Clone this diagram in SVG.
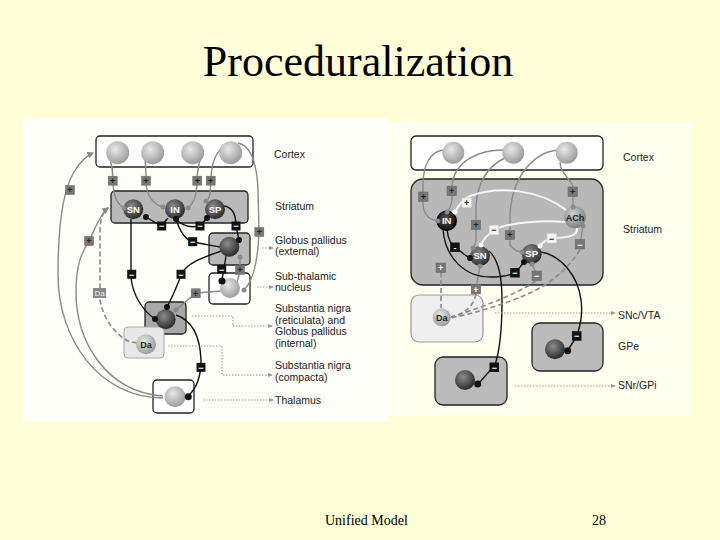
<svg xmlns="http://www.w3.org/2000/svg" width="720" height="540" viewBox="0 0 720 540">
<defs>
<radialGradient id="gl" cx="40%" cy="35%" r="65%"><stop offset="0" stop-color="#e8e8e8"/><stop offset="1" stop-color="#9c9c9c"/></radialGradient>
<radialGradient id="gd" cx="40%" cy="35%" r="65%"><stop offset="0" stop-color="#8c8c8c"/><stop offset="1" stop-color="#2c2c2c"/></radialGradient>
<radialGradient id="gm" cx="40%" cy="35%" r="65%"><stop offset="0" stop-color="#d0d0d0"/><stop offset="1" stop-color="#808080"/></radialGradient>
<radialGradient id="gk" cx="45%" cy="40%" r="60%"><stop offset="0" stop-color="#555"/><stop offset="1" stop-color="#111"/></radialGradient>
<marker id="ag" viewBox="0 0 10 10" refX="8" refY="5" markerWidth="5" markerHeight="5" orient="auto"><path d="M0,0 L10,5 L0,10 z" fill="#8a8a8a"/></marker>
<marker id="ad" viewBox="0 0 10 10" refX="8" refY="5" markerWidth="5" markerHeight="5" orient="auto"><path d="M0,1 L10,5 L0,9 z" fill="#999"/></marker>
</defs>
<style>
.lbl{font-family:"Liberation Sans",Arial,sans-serif;font-size:10.5px;fill:#222}
.box{stroke:#222;stroke-width:1.3}
.gl{fill:none;stroke:#8a8a8a;stroke-width:1.4}
.bl{fill:none;stroke:#111;stroke-width:1.4}
.wl{fill:none;stroke:#f6f6f6;stroke-width:2}
.dl{fill:none;stroke:#8a8a8a;stroke-width:1.6;stroke-dasharray:5,3}
.dt{fill:none;stroke:#999;stroke-width:1.1;stroke-dasharray:1.5,1.5}
.sp{fill:#777;stroke:#666;stroke-width:0.5}
.sm{fill:#111}
.sw{fill:#f4f4f4;stroke:#ccc;stroke-width:0.5}
.tp{font-family:"Liberation Sans",Arial,sans-serif;font-size:9px;font-weight:bold;fill:#222;text-anchor:middle}
.tm{font-family:"Liberation Sans",Arial,sans-serif;font-size:9px;font-weight:bold;fill:#fff;text-anchor:middle}
.tn{font-family:"Liberation Sans",Arial,sans-serif;font-size:9.5px;font-weight:bold;fill:#fff;text-anchor:middle}
.tk{font-family:"Liberation Sans",Arial,sans-serif;font-size:9px;font-weight:bold;fill:#222;text-anchor:middle}
.dot{fill:#111}
.gdot{fill:#8a8a8a}
.wdot{fill:#f6f6f6}
</style>
<rect width="720" height="540" fill="#ffffd7"/>
<text x="358" y="75.5" font-family="Liberation Serif,'Times New Roman',serif" font-size="44" text-anchor="middle" fill="#000">Proceduralization</text>
<text x="325" y="525" font-family="Liberation Serif,'Times New Roman',serif" font-size="14" fill="#000">Unified Model</text>
<text x="592" y="525" font-family="Liberation Serif,'Times New Roman',serif" font-size="14" fill="#000">28</text>

<!-- LEFT PANEL -->
<rect x="23" y="118" width="365" height="304" fill="#fefef8"/>
<g id="L-boxes">
<rect id="L-cortex-box" x="96" y="136" width="157" height="31" rx="4" fill="#fff" class="box"/>
<rect id="L-striatum-box" x="111" y="191" width="137" height="32" rx="4" fill="#b9b9b9" class="box"/>
<rect id="L-gpe-box" x="209" y="233" width="41" height="32" rx="4" fill="#b9b9b9" class="box"/>
<rect id="L-stn-box" x="209" y="273" width="41" height="31" rx="4" fill="#fff" class="box"/>
<rect id="L-snr-box" x="145" y="302" width="41" height="32" rx="4" fill="#a8a8a8" class="box"/>
<rect id="L-da-box" x="124" y="327" width="40" height="31" rx="4" fill="#e8e8e8" stroke="#aaa" stroke-width="1"/>
<rect id="L-thal-box" x="153" y="380" width="41" height="33" rx="4" fill="#fff" class="box"/>
</g>
<g id="L-connectors">
<path class="gl" d="M110,158 C112,166 113,172 113,181 C113,195 117,204 124,208"/>
<path class="gl" d="M145,160 C146,168 146,174 146,181 C146,196 154,205 163,207"/>
<path class="gl" d="M200,160 C198,168 197,174 197,181 C197,196 193,204 188,208"/>
<path class="gl" d="M222,148 C214,155 211,165 211,181 L210,194 C209,198 208,200 206,201"/>
<path class="gl" d="M238,143 C252,146 257,165 258,190 L259,232 C258,260 254,280 244,290"/>
<path class="gl" marker-end="url(#ag)" d="M163,398 C100,398 58,340 58,275 C58,225 63,190 74,172 C80,162 86,156 93,153"/>
<path class="gl" marker-end="url(#ag)" d="M163,396 C105,392 76,340 76,292 C76,264 82,252 89,241 C95,229 100,214 108,208"/>
<path class="dl" d="M137,343 L128,341 C114,333 103,318 100,300 L100,232 C100,219 103,212 108,208"/>
<path class="bl" d="M131,219 L131,278 C133,295 142,310 155,319"/>
<path class="bl" d="M146,217 L161,226 L168,218"/>
<path class="bl" d="M176,219 C182,226 190,228 200,226 L207,218"/>
<path class="bl" d="M176,219 C180,232 186,240 193,242 C205,244 213,246 220,247"/>
<path class="bl" d="M224,206 C232,207 236,214 236,226 L239,240"/>
<path class="bl" d="M221,251 C205,257 188,262 182,273 C177,286 172,298 167,307"/>
<path class="bl" d="M226,256 L222,280"/>
<path class="bl" d="M176,315 C191,320 200,335 201,360 C201,378 195,390 188,396"/>
<path class="gl" d="M221,291 L196,293 L176,310"/>
<path class="gl" d="M237,283 L240,270 L240,257"/>
<path class="dt" marker-end="url(#ad)" d="M262,248 L273,248"/>
<path class="dt" marker-end="url(#ad)" d="M257,287 L273,287"/>
<path class="dt" marker-end="url(#ad)" d="M192,316 L233,316 L233,326 L272,326"/>
<path class="dt" marker-end="url(#ad)" d="M168,346 L222,346 L222,375 L272,375"/>
<path class="dt" marker-end="url(#ad)" d="M203,400 L273,400"/>
</g>
<g id="L-neurons">
<circle cx="117.7" cy="152.7" r="11.5" fill="url(#gl)"/>
<circle cx="152.7" cy="152.7" r="11.5" fill="url(#gl)"/>
<circle cx="192.7" cy="152.7" r="11.5" fill="url(#gl)"/>
<circle cx="230.7" cy="152.7" r="11.5" fill="url(#gl)"/>
<g id="L-SN"><circle cx="133.3" cy="209.3" r="10" fill="url(#gd)"/><text x="133.3" y="212.7" class="tn">SN</text></g>
<g id="L-IN"><circle cx="175" cy="209.3" r="10" fill="url(#gd)"/><text x="175" y="212.7" class="tn">IN</text></g>
<g id="L-SP"><circle cx="215" cy="209.3" r="10" fill="url(#gd)"/><text x="215" y="212.7" class="tn">SP</text></g>
<circle id="L-GPe" cx="229.3" cy="246.7" r="10" fill="url(#gd)"/>
<circle id="L-STN" cx="230" cy="288" r="10" fill="url(#gl)"/>
<circle id="L-SNr" cx="165.7" cy="319.3" r="10" fill="url(#gd)"/>
<g id="L-Da"><circle cx="146" cy="344.3" r="10" fill="url(#gl)"/><text x="146" y="347.6" class="tk">Da</text></g>
<circle id="L-Thal" cx="175" cy="396.7" r="10.5" fill="url(#gl)"/>
<circle class="gdot" cx="124" cy="208" r="2.5"/>
<circle class="gdot" cx="163" cy="207" r="2.5"/>
<circle class="gdot" cx="188" cy="208" r="2.5"/>
<circle class="gdot" cx="206" cy="201" r="2.5"/>
<circle class="gdot" cx="240" cy="257" r="2.5"/>
<circle class="gdot" cx="244" cy="290" r="2.5"/>
<circle class="gdot" cx="176" cy="310" r="2.5"/>
<circle class="dot" cx="146" cy="217" r="3"/>
<circle class="dot" cx="176" cy="219" r="3"/>
<circle class="dot" cx="207" cy="218" r="3"/>
<circle class="dot" cx="239" cy="240" r="3"/>
<circle class="dot" cx="222" cy="281" r="3.5"/>
<circle class="dot" cx="155" cy="319" r="3"/>
<circle class="dot" cx="167" cy="307" r="3"/>
<circle class="dot" cx="188.3" cy="396.7" r="3.5"/>
</g>
<g id="L-signs">
<rect class="sp" x="108.2" y="176.2" width="9" height="9"/><text class="tp" x="112.7" y="183.9">+</text>
<rect class="sp" x="141.5" y="176.2" width="9" height="9"/><text class="tp" x="146" y="183.9">+</text>
<rect class="sp" x="192.8" y="176.2" width="9" height="9"/><text class="tp" x="197.3" y="183.9">+</text>
<rect class="sp" x="206.2" y="176.2" width="9" height="9"/><text class="tp" x="210.7" y="183.9">+</text>
<rect class="sp" x="65.5" y="185.5" width="9" height="9"/><text class="tp" x="70" y="193.2">+</text>
<rect class="sp" x="84.5" y="236.5" width="9" height="9"/><text class="tp" x="89" y="244.2">+</text>
<rect class="sp" x="254.8" y="227.5" width="9" height="9"/><text class="tp" x="259.3" y="235.2">+</text>
<rect class="sp" x="235.5" y="265.5" width="9" height="9"/><text class="tp" x="240" y="273.2">+</text>
<rect class="sp" x="191.2" y="288.8" width="9" height="9"/><text class="tp" x="195.7" y="296.5">+</text>
<rect class="sm" x="157.2" y="221.5" width="9" height="9"/><text class="tm" x="161.7" y="229.2">−</text>
<rect class="sm" x="195.5" y="221.5" width="9" height="9"/><text class="tm" x="200" y="229.2">−</text>
<rect class="sm" x="231.5" y="221.5" width="9" height="9"/><text class="tm" x="236" y="229.2">−</text>
<rect class="sm" x="188.2" y="237.2" width="9" height="9"/><text class="tm" x="192.7" y="244.9">−</text>
<rect class="sm" x="127.2" y="269.8" width="9" height="9"/><text class="tm" x="131.7" y="277.5">−</text>
<rect class="sm" x="176.5" y="269.8" width="9" height="9"/><text class="tm" x="181" y="277.5">−</text>
<rect class="sm" x="217.2" y="264.8" width="9" height="9"/><text class="tm" x="221.7" y="272.5">−</text>
<rect class="sm" x="196.5" y="362.8" width="9" height="9"/><text class="tm" x="201" y="370.5">−</text>
<rect x="93" y="288" width="13" height="10" fill="#888"/><text x="99.5" y="296" font-family="Liberation Sans,Arial,sans-serif" font-size="8" fill="#eee" text-anchor="middle">Da</text>
</g>
<g id="L-labels" class="lbl">
<text x="274" y="158">Cortex</text>
<text x="275" y="210">Striatum</text>
<text x="275" y="244">Globus pallidus</text>
<text x="275" y="255">(external)</text>
<text x="275" y="280">Sub-thalamic</text>
<text x="275" y="291">nucleus</text>
<text x="275" y="312">Substantia nigra</text>
<text x="275" y="323.5">(reticulata) and</text>
<text x="275" y="335">Globus pallidus</text>
<text x="275" y="346.5">(internal)</text>
<text x="275" y="369">Substantia nigra</text>
<text x="275" y="380.5">(compacta)</text>
<text x="275" y="404">Thalamus</text>
</g>

<!-- RIGHT PANEL -->
<rect x="388" y="122" width="304" height="294" fill="#fffff0"/>
<g id="R-boxes">
<rect id="R-cortex-box" x="411" y="136" width="192" height="34" rx="5" fill="#fff" class="box"/>
<rect id="R-striatum-box" x="411" y="179" width="192" height="106" rx="12" fill="#b8b8b8" class="box"/>
<rect id="R-da-box" x="411" y="295" width="72" height="47" rx="8" fill="#efefef" stroke="#999" stroke-width="1.2"/>
<rect id="R-gpe-box" x="532" y="323" width="71" height="48" rx="8" fill="#bbb" class="box"/>
<rect id="R-snr-box" x="435" y="357" width="72" height="48" rx="8" fill="#bbb" class="box"/>
</g>
<g id="R-connectors">
<path class="gl" d="M443,150 C430,152 423,165 423,185 L423,205 C424,215 430,220 438,221"/>
<path class="gl" d="M503,150 C480,150 455,160 452,185 L452,200 C451,206 449,210 447,212"/>
<path class="gl" d="M505,158 C490,165 478,180 476,205 L476,240 C476,244 474,246 473,248"/>
<path class="gl" d="M558,150 C535,152 512,175 510,215 L510,245 C514,250 518,252 522,252"/>
<path class="gl" d="M560,162 C560,175 572,178 573,188 L573,207"/>
<path class="gl" d="M583,226 L580,244"/>
<path class="gl" d="M480,266 L476,289"/>
<path class="gl" d="M532,264 L537,275"/>
<path class="wl" d="M566,210 C540,190 500,185 470,196 C462,200 458,206 455,212"/>
<path class="wl" d="M566,222 C545,220 510,222 494,230 C487,235 483,240 481,245"/>
<path class="wl" d="M577,228 C578,235 570,238 552,238 C546,240 542,243 540,246"/>
<path class="bl" d="M447,229 C448,240 452,246 455,247 C460,250 465,256 470,258"/>
<path class="bl" d="M443,229 C445,258 465,277 490,277 C500,277 510,275 515,273 C519,268 522,265 524,262"/>
<path class="bl" d="M489,251 C497,258 502,275 502,300 C502,330 500,350 495,365 L479,383"/>
<path class="bl" d="M541,252 C560,255 578,275 581,300 C583,315 580,325 577,336 L568,350"/>
<path class="dl" d="M580,250 C570,265 560,275 545,285 C520,300 480,312 451,318"/>
<path class="dl" d="M536,281 C515,295 480,308 451,317"/>
<path class="dl" d="M476,294 C474,305 465,314 451,317"/>
<path class="dl" d="M441,272 L441,308"/>
<path class="dt" marker-end="url(#ad)" d="M495,313 L615,313"/>
<path class="dt" marker-end="url(#ad)" d="M515,386 L615,386"/>
</g>
<g id="R-neurons">
<circle cx="453.3" cy="152.7" r="11" fill="url(#gl)"/>
<circle cx="513.3" cy="152.7" r="11" fill="url(#gl)"/>
<circle cx="566.7" cy="152.7" r="11" fill="url(#gl)"/>
<g id="R-IN"><circle cx="446.7" cy="220.7" r="9.5" fill="url(#gk)" stroke="#000" stroke-width="1.6"/><text x="446.7" y="224" class="tn">IN</text></g>
<g id="R-SN"><circle cx="480" cy="256" r="10" fill="url(#gd)"/><text x="480" y="259.4" class="tn">SN</text></g>
<g id="R-SP"><circle cx="531.7" cy="254" r="10" fill="url(#gd)"/><text x="531.7" y="257.4" class="tn">SP</text></g>
<g id="R-ACh"><circle cx="575" cy="217.3" r="11" fill="url(#gm)"/><text x="575" y="220.6" class="tk">ACh</text></g>
<g id="R-Da"><circle cx="441.7" cy="317.3" r="9" fill="url(#gl)"/><text x="441.7" y="320.6" class="tk">Da</text></g>
<circle id="R-GPe" cx="555" cy="349.3" r="10" fill="url(#gd)"/>
<circle id="R-SNr" cx="465" cy="380" r="10" fill="url(#gd)"/>
<circle class="gdot" cx="438" cy="221" r="2.5"/>
<circle class="gdot" cx="447" cy="212" r="2.5"/>
<circle class="gdot" cx="473" cy="248" r="2.5"/>
<circle class="gdot" cx="522" cy="252" r="2.5"/>
<circle class="gdot" cx="573" cy="207" r="2.5"/>
<circle class="gdot" cx="583" cy="226" r="2.5"/>
<circle class="gdot" cx="480" cy="266" r="2.5"/>
<circle class="gdot" cx="532" cy="264" r="2.5"/>
<circle class="wdot" cx="455" cy="212" r="2.5"/>
<circle class="wdot" cx="481" cy="245" r="2.5"/>
<circle class="wdot" cx="540" cy="246" r="2.5"/>
<circle class="dot" cx="470" cy="258" r="3"/>
<circle class="dot" cx="524" cy="262" r="3"/>
<circle class="dot" cx="567.7" cy="350.7" r="3.5"/>
<circle class="dot" cx="477.7" cy="384" r="3.5"/>
</g>
<g id="R-signs">
<rect class="sp" x="418.5" y="192" width="9.5" height="9.5"/><text class="tp" x="423.3" y="199.9">+</text>
<rect class="sp" x="447" y="186.2" width="9.5" height="9.5"/><text class="tp" x="451.7" y="194.2">+</text>
<rect class="sp" x="568" y="187" width="9.5" height="9.5"/><text class="tp" x="572.7" y="194.9">+</text>
<rect class="sp" x="471.2" y="220.2" width="9.5" height="9.5"/><text class="tp" x="476" y="228.2">+</text>
<rect class="sp" x="505.2" y="230.2" width="9.5" height="9.5"/><text class="tp" x="510" y="238.2">+</text>
<rect class="sp" x="436" y="263" width="9.5" height="9.5"/><text class="tm" x="440.7" y="270.9">+</text>
<rect class="sp" x="471.2" y="284.5" width="9.5" height="9.5"/><text class="tm" x="476" y="292.5">+</text>
<rect class="sw" x="462" y="198" width="9.5" height="9.5"/><text class="tp" x="466.7" y="205.9">+</text>
<rect class="sw" x="489.2" y="225.2" width="9.5" height="9.5"/><text class="tp" x="494" y="233.2">−</text>
<rect class="sw" x="547" y="233.5" width="9.5" height="9.5"/><text class="tp" x="551.7" y="241.5">−</text>
<rect class="sp" x="575.2" y="239.5" width="9.5" height="9.5"/><text class="tm" x="580" y="247.5">−</text>
<rect class="sp" x="532" y="271" width="9.5" height="9.5"/><text class="tm" x="536.7" y="278.9">−</text>
<rect class="sm" x="450.2" y="242.5" width="9.5" height="9.5"/><text class="tm" x="455" y="250.5">-</text>
<rect class="sm" x="510.2" y="268" width="9.5" height="9.5"/><text class="tm" x="515" y="275.9">−</text>
<rect class="sm" x="572" y="331.2" width="9.5" height="9.5"/><text class="tm" x="576.7" y="339.2">−</text>
<rect class="sm" x="489.5" y="362.5" width="9.5" height="9.5"/><text class="tm" x="494.3" y="370.5">−</text>
</g>
<g id="R-labels" class="lbl">
<text x="623" y="161">Cortex</text>
<text x="623" y="233">Striatum</text>
<text x="618" y="319">SNc/VTA</text>
<text x="618" y="350">GPe</text>
<text x="618" y="389">SNr/GPi</text>
</g>
</svg>
